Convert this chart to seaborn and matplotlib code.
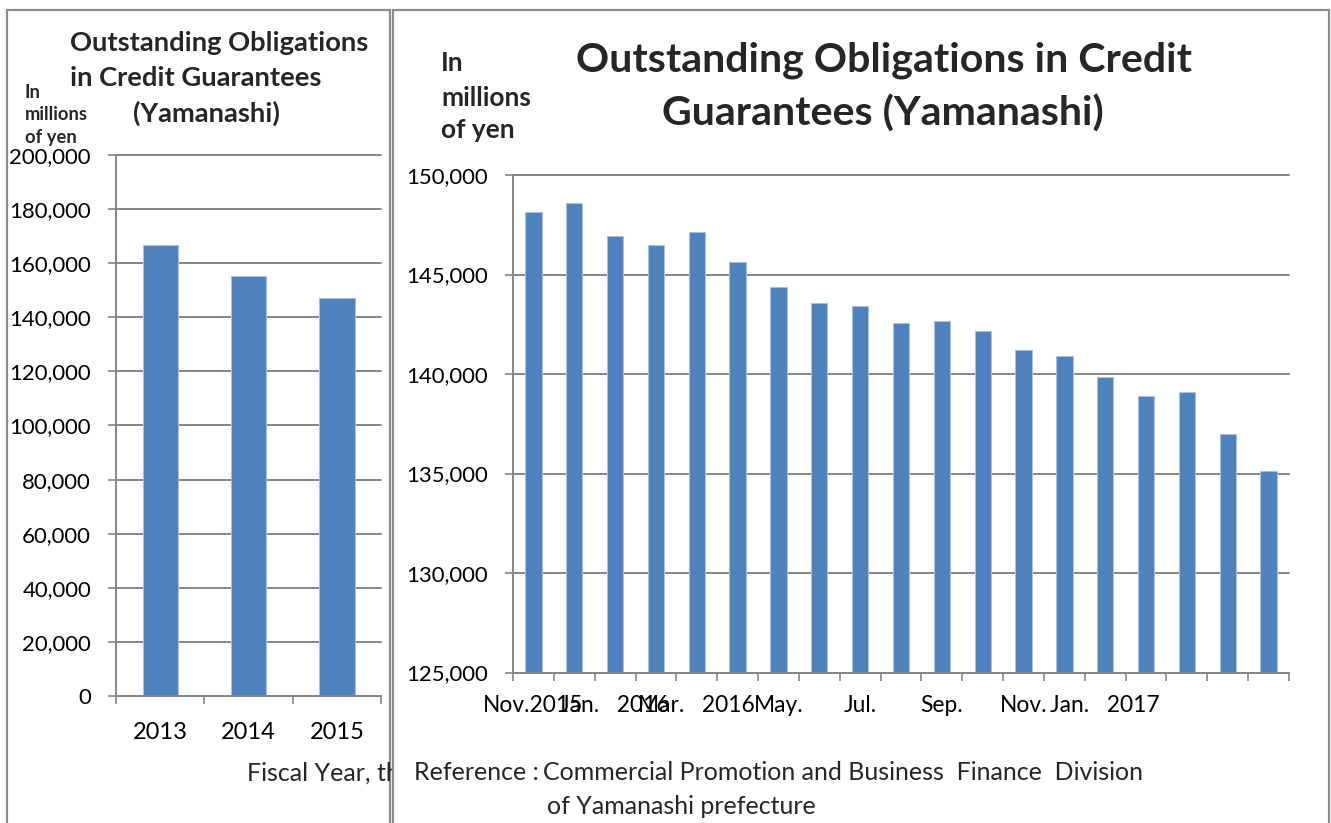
import matplotlib
matplotlib.use("Agg")
import matplotlib.pyplot as plt
from matplotlib.patches import Rectangle
from matplotlib.ticker import FuncFormatter, FixedLocator
import seaborn as sns
import pandas as pd

# ---- data ----
fiscal_years = ["2013", "2014", "2015"]
yearly_balance = [166900, 155300, 147100]

month_keys = ["2015-11", "2015-12", "2016-01", "2016-02", "2016-03", "2016-04",
              "2016-05", "2016-06", "2016-07", "2016-08", "2016-09", "2016-10",
              "2016-11", "2016-12", "2017-01", "2017-02", "2017-03", "2017-04",
              "2017-05"]
monthly_balance = [148130, 148610, 146920, 146500, 147140, 145640, 144360, 143580,
                   143420, 142550, 142650, 142150, 141210, 140910, 139860, 138890,
                   139100, 136960, 135140]
# every other month carries a label on the axis
month_tick_pos = [0, 2, 4, 6, 8, 10, 12, 14]
month_tick_labels = ["Nov.2015", "Jan.   2016", "Mar.   2016", "May.", "Jul.",
                     "Sep.", "Nov.", "Jan.   2017"]

left_yticks = list(range(0, 200001, 20000))
right_yticks = list(range(125000, 150001, 5000))

# ---- style ----
sns.set_style("white")
FONT = ["Lato", "DejaVu Sans"]
plt.rcParams["font.family"] = FONT

BAR = "#4F81BD"
BAR_EDGE = "#A9C1DF"
GRID = "#868686"
FRAME = "#8C8C8C"

W, H = 1331, 823
fig = plt.figure(figsize=(W / 100, H / 100), dpi=100)
fig.patch.set_facecolor("white")


def fx(x):
    return x / W


def fy(y):
    return 1 - y / H


def axes_at(x0, y0, x1, y1, z):
    ax = fig.add_axes([fx(x0), fy(y1), fx(x1) - fx(x0), fy(y0) - fy(y1)], zorder=z)
    ax.set_facecolor("none")
    return ax


def style_axes(ax, n, yticks, ylim, ylab_size, xlab_size, xpad):
    ax.set_xlim(-0.5, n - 0.5)
    ax.set_ylim(*ylim)
    ax.set_yticks(yticks)
    ax.yaxis.set_major_formatter(FuncFormatter(lambda v, p: f"{int(v):,}"))
    ax.yaxis.grid(True, color=GRID, lw=1.4)
    ax.set_axisbelow(True)
    for s in ("top", "right"):
        ax.spines[s].set_visible(False)
    for s in ("left", "bottom"):
        ax.spines[s].set_color(GRID)
        ax.spines[s].set_linewidth(1.4)
    ax.tick_params(axis="y", which="major", left=True, direction="out", length=6,
                   width=1.2, color=GRID, pad=12, labelsize=ylab_size,
                   labelcolor="black")
    ax.xaxis.set_minor_locator(FixedLocator([i - 0.5 for i in range(n + 1)]))
    ax.tick_params(axis="x", which="minor", bottom=True, direction="out", length=6,
                   width=1.2, color=GRID)
    ax.tick_params(axis="x", which="major", bottom=True, length=0, pad=xpad,
                   labelsize=xlab_size, labelcolor="black")
    ax.set_xlabel("")
    ax.set_ylabel("")
    for line in ax.get_ygridlines():
        line.set_clip_on(False)


# ---- panel frames ----
fig.add_artist(Rectangle((fx(7), fy(900)), fx(390) - fx(7), fy(10) - fy(900),
                         transform=fig.transFigure, facecolor="white",
                         edgecolor=FRAME, lw=1.6, zorder=-1))
fig.add_artist(Rectangle((fx(393), fy(900)), fx(1329) - fx(393), fy(10) - fy(900),
                         transform=fig.transFigure, facecolor="white",
                         edgecolor=FRAME, lw=1.6, zorder=1))

# ---- left chart: fiscal years ----
axL = axes_at(116, 155, 381, 696, 0)
dfL = pd.DataFrame({"year": fiscal_years, "balance": yearly_balance})
sns.barplot(data=dfL, x="year", y="balance", color=BAR, saturation=1, width=0.4,
            edgecolor=BAR_EDGE, linewidth=0.8, errorbar=None, ax=axL)
style_axes(axL, len(fiscal_years), left_yticks, (0, 200000), 15.9, 17, 19)

TITLE_L = 19.7
fig.text(fx(70), fy(43), "Outstanding Obligations", ha="left", va="center",
         fontsize=TITLE_L, fontweight="bold", zorder=3)
fig.text(fx(70), fy(78), "in Credit Guarantees", ha="left", va="center",
         fontsize=TITLE_L, fontweight="bold", zorder=3)
fig.text(fx(206), fy(113), "(Yamanashi)", ha="center", va="center",
         fontsize=TITLE_L, fontweight="bold", zorder=3)
for txt, yy in (("In", 92), ("millions", 115), ("of yen", 138)):
    fig.text(fx(25), fy(yy), txt, ha="left", va="center", fontsize=13.2,
             fontweight="bold", zorder=3)
fig.text(fx(247), fy(773), "Fiscal Year, the end of March", ha="left", va="center",
         fontsize=18, zorder=0.5)

# ---- right chart: months ----
axR = axes_at(513, 175, 1289, 672.5, 2)
dfR = pd.DataFrame({"month": month_keys, "balance": monthly_balance})
sns.barplot(data=dfR, x="month", y="balance", color=BAR, saturation=1, width=0.4,
            edgecolor=BAR_EDGE, linewidth=0.8, errorbar=None, ax=axR)
style_axes(axR, len(month_keys), right_yticks, (125000, 150000), 15.9, 16.4, 16.5)
axR.set_xticks(month_tick_pos)
axR.set_xticklabels(month_tick_labels)

TITLE_R = 29.6
fig.text(fx(884), fy(60), "Outstanding Obligations in Credit", ha="center",
         va="center", fontsize=TITLE_R, fontweight="bold", zorder=3)
fig.text(fx(883), fy(114), "Guarantees (Yamanashi)", ha="center",
         va="center", fontsize=TITLE_R, fontweight="bold", zorder=3)
for txt, yy in (("In", 63), ("millions", 98), ("of yen", 130)):
    fig.text(fx(441), fy(yy), txt, ha="left", va="center", fontsize=18.9,
             fontweight="bold", zorder=3)

fig.text(fx(539), fy(773), "Reference :", ha="right", va="center",
         fontsize=18, zorder=3)
fig.text(fx(543), fy(773), "Commercial Promotion and Business  Finance  Division",
         ha="left", va="center", fontsize=18, zorder=3)
fig.text(fx(547), fy(806), "of Yamanashi prefecture", ha="left", va="center",
         fontsize=18, zorder=3)

fig.savefig("out.png", dpi=100, facecolor="white")
